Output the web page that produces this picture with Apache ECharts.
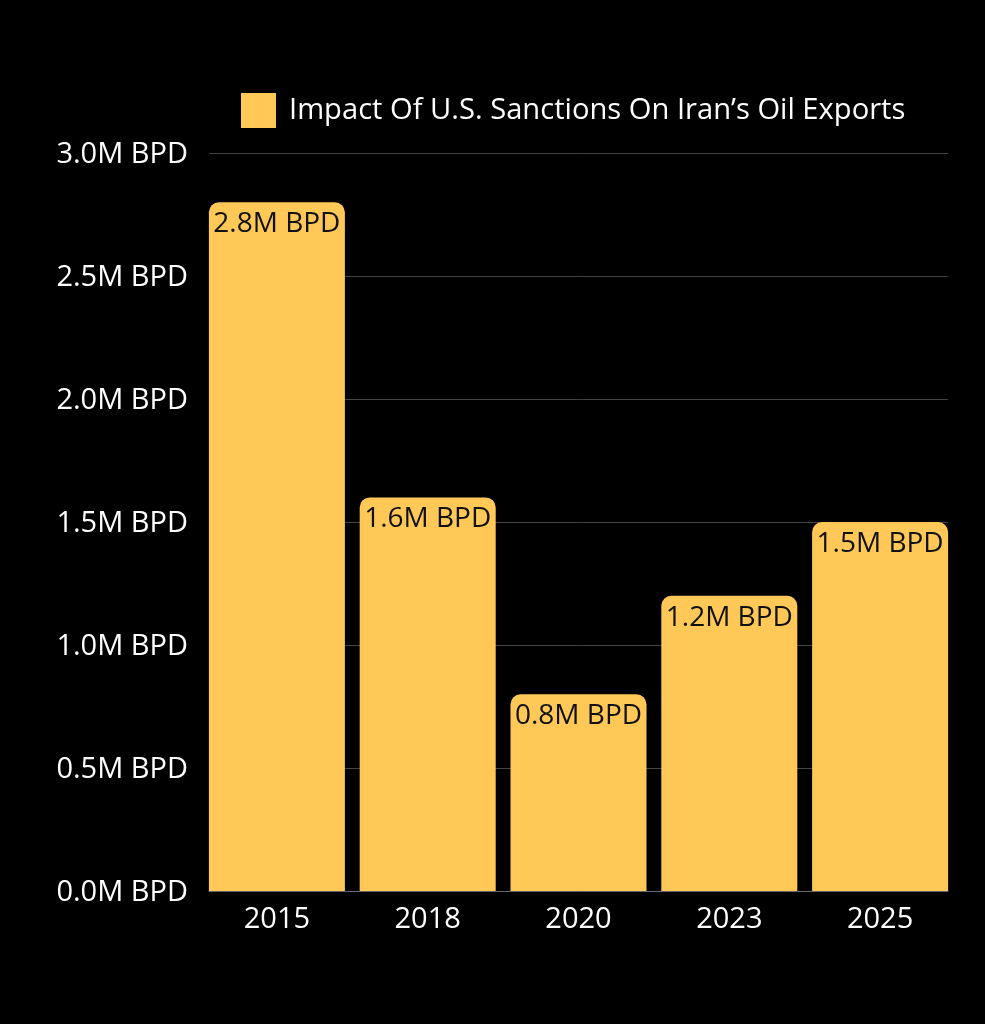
<!DOCTYPE html>
<html>
<head>
<meta charset="utf-8">
<title>Impact Of U.S. Sanctions On Iran's Oil Exports</title>
<script src="https://cdn.jsdelivr.net/npm/echarts@6/dist/echarts.min.js"></script>
<style>
    html, body { margin: 0; padding: 0; background: #000; }
    #chart { width: 985px; height: 1024px; }
</style>
</head>
<body>
<div id="chart"></div>
<script>
const seriesName = 'Impact Of U.S. Sanctions On Iran’s Oil Exports'
const years = ['2015', '2018', '2020', '2023', '2025']
const exportsBpd = [2.8, 1.6, 0.8, 1.2, 1.5]
const yMin = 0
const yMax = 3
const yStep = 0.5

const font = '"Open Sans", sans-serif'
const barColor = '#ffc857'
const formatBpd = v => `${v.toFixed(1)}M BPD`

const chart = echarts.init(document.getElementById('chart'))

chart.setOption({
    backgroundColor: '#000',
    animation: false,
    legend: {
        left: 241,
        top: 93,
        padding: 0,
        itemWidth: 35,
        itemHeight: 35,
        icon: 'rect',
        data: [seriesName],
        textStyle: { color: '#fff', fontFamily: font, fontSize: 29.15, padding: [0, 0, 0, 8] },
    },
    // first grid holds the gridlines and y labels, second one the bars (bars sit flush with the plot edges)
    grid: [
        { left: 209, top: 153, width: 739, height: 738 },
        { left: 201.5, top: 153, width: 754, height: 738 },
    ],
    xAxis: [
        {
            type: 'category',
            gridIndex: 0,
            data: years,
            axisLine: { lineStyle: { color: '#666', width: 1 } },
            axisTick: { show: false },
            axisLabel: { show: false },
        },
        {
            type: 'category',
            gridIndex: 1,
            data: years,
            axisLine: { show: false },
            axisTick: { show: false },
            axisLabel: { color: '#fff', fontFamily: font, fontSize: 29, margin: 14 },
        },
    ],
    yAxis: [
        {
            type: 'value',
            gridIndex: 0,
            min: yMin,
            max: yMax,
            interval: yStep,
            axisLine: { show: false },
            axisTick: { show: false },
            axisLabel: {
                margin: 21,
                formatter: v => `{tick|${formatBpd(v)}}`,
                rich: { tick: { color: '#fff', fontFamily: font, fontSize: 29, padding: [4, 0, 0, 0] } },
            },
            splitLine: { lineStyle: { color: '#444', width: 1 } },
        },
        {
            type: 'value',
            gridIndex: 1,
            min: yMin,
            max: yMax,
            interval: yStep,
            show: false,
            splitLine: { show: false },
        },
    ],
    series: [
        {
            name: seriesName,
            type: 'bar',
            xAxisIndex: 1,
            yAxisIndex: 1,
            data: exportsBpd,
            barWidth: 136,
            itemStyle: { color: barColor, borderRadius: [10, 10, 0, 0] },
            label: {
                show: true,
                position: 'insideTop',
                distance: 8,
                color: '#111',
                fontFamily: font,
                fontSize: 28,
                formatter: p => formatBpd(p.value),
            },
        },
    ],
})
</script>
</body>
</html>
